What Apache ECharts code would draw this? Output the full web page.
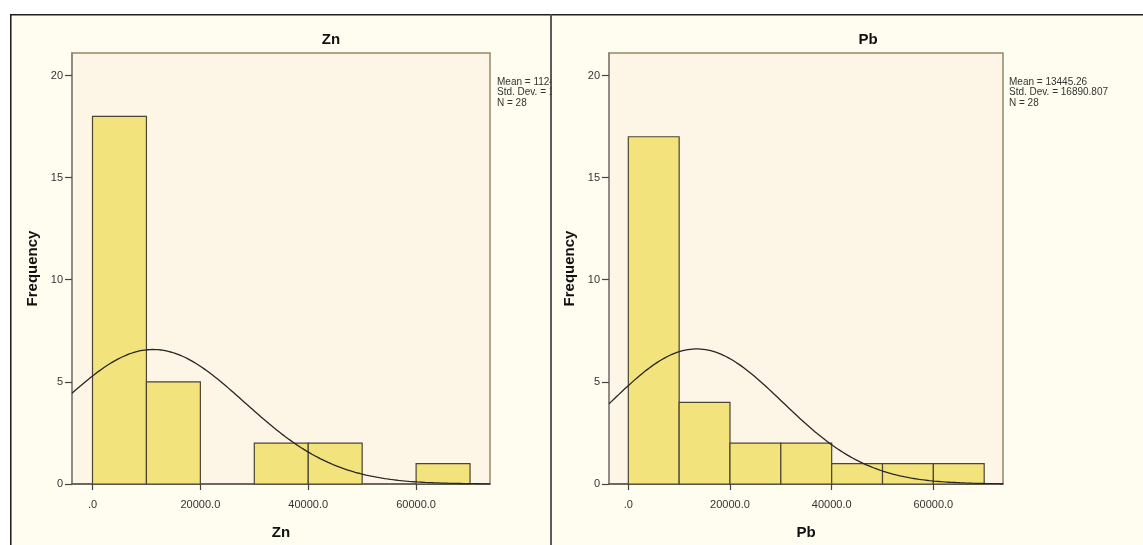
<!DOCTYPE html>
<html>
<head>
<meta charset="utf-8">
<title>Zn / Pb histograms</title>
<script src="https://cdn.jsdelivr.net/npm/echarts@6/dist/echarts.min.js"></script>
<style>
  html, body { margin: 0; padding: 0; background: #ffffff; width: 1143px; height: 545px; overflow: hidden; }
  .panel { position: absolute; top: 14px; height: 531px; }
  #zn { left: 10px; width: 542px; }
  #pb { left: 552px; width: 591px; }
</style>
</head>
<body>
<div id="zn" class="panel"></div>
<div id="pb" class="panel"></div>
<script>
// Histogram bins (lower edges), width 10000
const binStarts = [0, 10000, 20000, 30000, 40000, 50000, 60000];
const binWidth = 10000;

// Frequencies per bin
const znCounts = [18, 5, 0, 2, 2, 0, 1];
const pbCounts = [17, 4, 2, 2, 1, 1, 1];

// Summary statistics used for the fitted normal curve
const znMean = 11241.07;
const znStdDev = 16962.412;
const znN = 28;
const pbMean = 13445.26;
const pbStdDev = 16890.807;
const pbN = 28;

// Axis ticks
const xTickValues = [0, 20000, 40000, 60000];
const yTickValues = [0, 5, 10, 15, 20];
const xRange = [-3800, 73700];
const yRange = [0, 21.1];

const FONT = '"Liberation Sans", Arial, sans-serif';
const PANEL_BG = '#FFFDF0';
const PLOT_BG = '#FDF5E6';
const BAR_FILL = '#F3E37C';
const BAR_EDGE = '#4b4532';

function normalCurve(mean, sd, n) {
  const pts = [];
  const scale = n * binWidth / (sd * Math.sqrt(2 * Math.PI));
  for (let x = xRange[0]; x <= xRange[1]; x += 250) {
    const z = (x - mean) / sd;
    pts.push([x, scale * Math.exp(-0.5 * z * z)]);
  }
  return pts;
}

function xLabel(v) {
  return v === 0 ? '.0' : v.toFixed(1);
}

function buildOption(cfg) {
  const bars = binStarts.map((s, i) => [s, s + binWidth, cfg.counts[i]]);
  const statsLines = [
    'Mean = ' + cfg.meanText,
    'Std. Dev. = ' + cfg.sdText,
    'N = ' + cfg.n
  ];
  const frame = [
    { type: 'line', shape: { x1: 0, y1: 0.75, x2: cfg.width, y2: 0.75 }, style: { stroke: '#1e1e1e', lineWidth: 1.7 }, z: 10 }
  ];
  if (cfg.leftEdge) {
    frame.push({ type: 'line', shape: { x1: 0.75, y1: 0, x2: 0.75, y2: 531 }, style: { stroke: '#1e1e1e', lineWidth: 1.6 }, z: 10 });
  }
  if (cfg.rightEdge) {
    frame.push({ type: 'line', shape: { x1: cfg.width - 1, y1: 0, x2: cfg.width - 1, y2: 531 }, style: { stroke: '#4a4a4a', lineWidth: 1.8 }, z: 10 });
  }
  const texts = [
    {
      type: 'text', x: cfg.titleX, y: 26,
      style: { text: cfg.name, font: 'bold 15px ' + FONT, fill: '#111', align: 'center', verticalAlign: 'middle' }
    }
  ].concat(statsLines.map((t, i) => ({
    type: 'text', x: cfg.statsX, y: 68.5 + i * 10.2,
    style: { text: t, font: '10px ' + FONT, fill: '#333', align: 'left', verticalAlign: 'middle' }
  })));

  return {
    backgroundColor: PANEL_BG,
    animation: false,
    grid: {
      left: cfg.gridLeft, top: 39, width: cfg.gridWidth, height: 432,
      show: true, backgroundColor: PLOT_BG, borderColor: '#978767', borderWidth: 1.5
    },
    xAxis: {
      type: 'value', min: xRange[0], max: xRange[1],
      name: cfg.name, nameLocation: 'middle', nameGap: 41,
      nameTextStyle: { fontFamily: FONT, fontWeight: 'bold', fontSize: 15, color: '#111' },
      splitLine: { show: false },
      axisLine: { show: true, onZero: false, lineStyle: { color: '#555', width: 1.5 } },
      axisTick: { show: true, length: 6, customValues: xTickValues, lineStyle: { color: '#444', width: 1.2 } },
      axisLabel: { customValues: xTickValues, formatter: xLabel, margin: 15, fontFamily: FONT, fontSize: 11, color: '#333' }
    },
    yAxis: {
      type: 'value', min: yRange[0], max: yRange[1],
      name: 'Frequency', nameLocation: 'middle', nameGap: 30, nameRotate: 90,
      nameTextStyle: { fontFamily: FONT, fontWeight: 'bold', fontSize: 15, color: '#111' },
      splitLine: { show: false },
      axisLine: { show: true, onZero: false, lineStyle: { color: '#858585', width: 1.5 } },
      axisTick: { show: true, length: 7, customValues: yTickValues, lineStyle: { color: '#444', width: 1.2 } },
      axisLabel: { customValues: yTickValues, margin: 9, fontFamily: FONT, fontSize: 11, color: '#333' }
    },
    graphic: frame.concat(texts),
    series: [
      {
        type: 'custom',
        data: bars,
        encode: { x: [0, 1], y: 2 },
        renderItem: function (params, api) {
          const count = api.value(2);
          if (!count) return null;
          const p0 = api.coord([api.value(0), 0]);
          const p1 = api.coord([api.value(1), count]);
          return {
            type: 'rect',
            shape: { x: p0[0], y: p1[1], width: p1[0] - p0[0], height: p0[1] - p1[1] },
            style: { fill: BAR_FILL, stroke: BAR_EDGE, lineWidth: 1.2 }
          };
        },
        z: 2
      },
      {
        type: 'line',
        data: normalCurve(cfg.mean, cfg.sd, cfg.n),
        showSymbol: false,
        smooth: false,
        lineStyle: { color: '#262626', width: 1.3 },
        z: 3
      }
    ]
  };
}

const znChart = echarts.init(document.getElementById('zn'));
znChart.setOption(buildOption({
  name: 'Zn', counts: znCounts, mean: znMean, sd: znStdDev, n: znN,
  meanText: znMean.toFixed(2), sdText: znStdDev.toFixed(3),
  width: 542, gridLeft: 62, gridWidth: 418, titleX: 321, statsX: 487,
  leftEdge: true, rightEdge: true
}));

const pbChart = echarts.init(document.getElementById('pb'));
pbChart.setOption(buildOption({
  name: 'Pb', counts: pbCounts, mean: pbMean, sd: pbStdDev, n: pbN,
  meanText: pbMean.toFixed(2), sdText: pbStdDev.toFixed(3),
  width: 591, gridLeft: 57, gridWidth: 394, titleX: 316, statsX: 457,
  leftEdge: false, rightEdge: false
}));
</script>
</body>
</html>
